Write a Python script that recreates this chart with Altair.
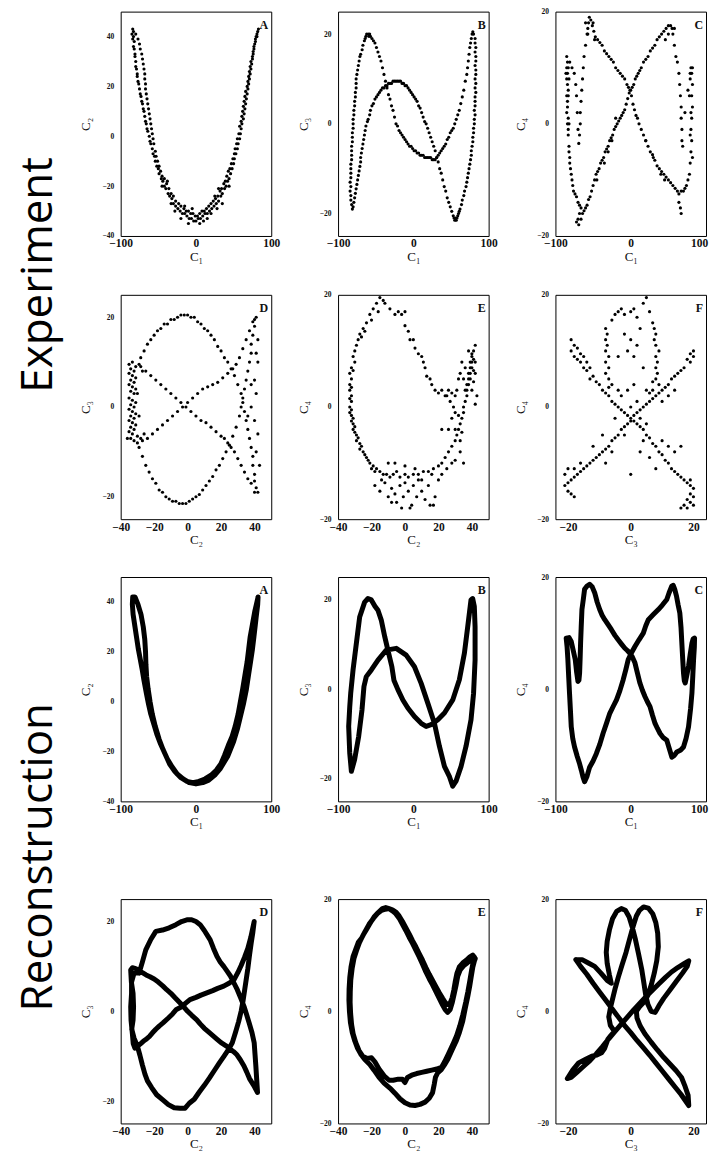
import altair as alt
import pandas as pd

# ---------------- data ----------------
# Experiment panels (scatter points)
EXP_A = [(-84,43),(-83,42),(-85,41),(-83,40),(-84,39),(-82,38),(-83,36),(-82,35),(-81,33),(-81,32),(-80,30),(-80,28),(-79,27),(-78,25),(-78,24),(-77,22),(-76,21),(-75,19),(-74,17),(-73,16),(-72,14),(-71,13),(-70,11),(-69,10),(-68,8),(-67,6),(-66,5),(-65,3),(-64,2),(-62,0),(-61,-2),(-60,-3),(-58,-5),(-57,-7),(-55,-8),(-54,-10),(-52,-12),(-50,-13),(-49,-15),(-46,-17),(-44,-18),(-42,-20),(-40,-21),(-37,-23),(-35,-24),(-32,-25),(-30,-27),(-27,-28),(-24,-29),(-21,-30),(-18,-31),(-15,-31),(-12,-32),(-9,-33),(-6,-33),(-3,-34),(0,-34),(3,-33),(6,-33),(9,-32),(12,-31),(15,-31),(18,-30),(21,-29),(24,-28),(27,-27),(30,-26),(33,-24),(35,-23),(38,-21),(40,-20),(42,-18),(44,-17),(46,-15),(48,-13),(50,-11),(51,-9),(53,-7),(55,-5),(56,-3),(58,-1),(59,1),(60,3),(61,5),(63,7),(64,9),(65,11),(66,13),(67,15),(68,17),(69,19),(70,21),(71,23),(72,25),(73,27),(74,29),(75,31),(76,33),(77,35),(78,37),(79,38),(80,40),(81,41),(82,42),(83,43),
         (-80,41),(-77,39),(-75,37),(-74,35),(-72,33),(-71,31),(-70,29),(-69,27),(-68,25),(-68,23),(-67,21),(-67,19),(-66,17),(-65,15),(-64,13),(-63,11),(-62,9),(-61,7),(-60,5),(-59,3),(-58,1),(-57,-1),(-56,-3),(-54,-6),(-53,-8),(-51,-10),(-49,-12),(-47,-14),(-45,-16),(-42,-17),(-39,-19),(-36,-21),(-33,-23),(-30,-24),(-27,-26),(-23,-27),(-20,-28),(-16,-29),(-13,-30),(-10,-30),(-7,-31),(-4,-31),(-1,-32),(2,-32),(5,-31),(8,-30),(11,-30),(14,-29),(17,-28),(20,-27),(23,-26),(26,-25),(29,-24),(32,-22),(34,-21),(37,-19),(39,-18),(41,-16),(43,-14),(45,-13),(47,-11),(49,-9),(51,-7),(52,-5),(54,-3),(55,-1),(57,1),(58,4),(60,6),(61,8),(62,10),(63,12),(64,14),(65,16),(66,18),(68,20),(69,22),(70,24),(71,26),(72,28),(73,30),(75,32),(76,34),(77,36),(79,39),(81,40),
         (-20,-33),(-10,-35),(5,-35),(15,-33),(-28,-30),(28,-29),(-5,-29),(10,-34),(-15,-28),(20,-31),(25,-24),(30,-21),(35,-27),(-33,-27),(-38,-18),(44,-20),(-45,-20)]

EXP_B = [(-81,-19),(-82,-18),(-83,-17),(-83,-16),(-84,-15),(-83,-14),(-84,-13),(-83,-12),(-83,-11),(-83,-10),(-83,-9),(-82,-8),(-82,-7),(-82,-6),(-82,-5),(-81,-4),(-81,-3),(-81,-2),(-80,-1),(-80,0),(-80,1),(-79,2),(-79,3),(-78,4),(-78,5),(-77,6),(-77,7),(-76,8),(-76,9),(-76,10),(-75,11),(-74,12),(-73,13),(-72,14),(-71,15),(-70,15.5),(-68,16.5),(-67,17.5),(-65,18.5),(-64,19),(-63,19.5),(-62,20),(-60,20),(-59,19.5),(-58,20),
         (-57,19.5),(-55,19),(-53,18.5),(-51,18),(-49,17),(-47,16),(-45,15),(-43,14),(-41,12.5),(-39,11),(-37,9.5),(-35,8),(-33,6.5),(-31,5.5),(-29,4),(-27,3),(-25,1.5),(-23,0),(-21,-0.5),(-19,-1.5),(-17,-2),(-15,-2.5),(-13,-3),(-11,-3.5),(-9,-4),(-7,-4.5),(-5,-5),(-3,-5),(-1,-5.5),(1,-6),(3,-6),(5,-6.5),(7,-6.5),(9,-7),(11,-7),(13,-7),(15,-7.5),(17,-7.5),(19,-7.5),(21,-7.5),(23,-7.5),(25,-8),(27,-8),(29,-8),
         (31,-7.5),(33,-7),(35,-6.5),(37,-6),(39,-5.5),(41,-5),(43,-4.5),(45,-3.5),(47,-3),(49,-2),(51,-1.5),(53,-1),(55,0),(57,1),(59,2),(61,3),(63,4.5),(65,6),(67,7.5),(69,9.5),(71,11),(72,12.5),(73,14),(74,15.5),(75,17),(76,18),(77,19),(78,20),(79,20.5),(80,20),
         (82,19),(82,18),(83,17),(82,16),(83,15),(83,14),(82,13),(83,12),(83,11),(82,10),(83,9),(82,8),(83,7),(82,6),(82,5),(82,4),(81,3),(82,2),(81,1),(81,0),(80,-1),(80,-2),(79,-3),(79,-4),(78,-5),(77,-6),(77,-7),(76,-8),(75,-9),(74,-10),(73,-11),(72,-12),(71,-13),(70,-14),(68,-15),(67,-16),(65,-17),(64,-18),(62,-19),(61,-19.5),(60,-20),(59,-20.5),(58,-21),(57,-21.5),(56,-21),(55,-21.5),(54,-21),
         (53,-20.5),(51,-19.5),(49,-18.5),(47,-17.5),(45,-16.5),(43,-15),(41,-14),(39,-12.5),(37,-11),(35,-10),(33,-8.5),(31,-7.5),(29,-6),(27,-5),(25,-4),(23,-3),(21,-2),(19,-1),(17,0),(15,0.5),(13,1.5),(11,2.5),(9,3.5),(7,4),(5,5),(3,5.5),(1,6),(-1,6.5),(-3,7),(-5,7.5),(-7,8),(-9,8.5),(-11,8.5),(-13,9),(-15,9),(-17,9.5),(-19,9.5),(-21,9.5),(-23,9.5),(-25,9.5),(-27,9.5),(-29,9),(-31,9),(-33,9),(-35,8.5),(-37,8.5),(-39,8),(-41,8),(-43,7.5),(-45,7),(-47,6.5),(-49,6),(-51,5.5),(-53,4.5),(-55,4),(-57,3),(-58,2),(-60,1),(-61,0.5),(-63,-0.5),(-64,-1.5),(-65,-2.5),(-66,-3.5),(-67,-4.5),(-68,-5.5),(-69,-6.5),(-70,-7.5),(-70,-8.5),(-71,-9.5),(-72,-10.5),(-73,-11.5),(-74,-12.5),(-75,-13.5),(-76,-14.5),(-77,-15.5),(-78,-16.5),(-79,-17.5),(-80,-18.5)]

EXP_C = [(-84,11),(-85,10),(-84,9),(-85,8),(-84,7),(-83,6),(-85,5),(-84,4),(-84,3),(-83,1),(-84,0),(-83,-1),(-83,-2),(-82,-4),(-82,-5),(-81,-6),(-81,-7),(-80,-8),(-79,-9),(-78,-10),(-77,-11),(-76,-12),(-74,-12.5),(-72,-13),(-70,-14),(-68,-14.5),(-66,-15),(-68,-16),(-70,-17),(-72,-17.5),(-69,-18),(-66,-17),(-64,-16),(-62,-15.5),(-60,-15),(-58,-14.5),(-56,-13.5),(-54,-13),(-52,-12),(-50,-11),(-48,-10),(-46,-9),(-44,-8.5),(-42,-8),(-40,-7),(-38,-6.5),(-36,-6),(-34,-5),(-32,-4.5),(-30,-4),(-28,-3),(-26,-2.5),(-24,-2),(-22,-1),(-20,-0.5),(-18,0),(-16,0.5),(-14,1),(-12,1.5),(-10,2),(-8,2.5),(-6,3.5),(-4,4.5),(-2,5.5),(0,6),(2,6.5),(4,7),(6,8),(8,8.5),(10,9),(12,9.5),(14,10),(17,11),(20,11.5),(23,12),(26,13),(29,13.5),(32,14),(35,15),(38,15.5),(41,16),(44,16.5),(47,17),(50,17.5),(53,17.5),(55,17),
         (58,14),(60,12),(62,11),(64,9),(65,7),(66,5),(67,3),(67,1),(68,-1),(68,-3),(69,-4),(72,2),(76,6),(79,9),(80,10),(81,9),(82,7),(81,5),(82,3),(81,1),(80,-1),(81,-3),(80,-5),(79,-7),(78,-9),(76,-10),(74,-11),(72,-11.5),(70,-12),(67,-12),(64,-12.5),
         (62,-12),(59,-11.5),(56,-11),(53,-10.5),(50,-10),(47,-9.5),(44,-9),(41,-8.5),(38,-8),(35,-7.5),(32,-6.5),(29,-5.5),(26,-5),(23,-4),(20,-3),(17,-2),(14,-1),(11,0),(9,1),(7,1.5),(5,2.5),(3,3.5),(1,5),(-1,6),(-3,6.5),(-5,7),(-8,8),(-11,8.5),(-14,9),(-17,9.5),(-20,10),(-23,11),(-26,11.5),(-29,12),(-32,12.5),(-35,13),(-38,14),(-41,14.5),(-44,15),(-47,15.5),(-49,16.5),(-51,17.5),(-53,18.5),(-55,19),(-56,18),(-57,17),
         (-58,16),(-60,14),(-62,12),(-63,10),(-64,8),(-65,6),(-66,4),(-67,2),(-67,0),(-68,-2),(-69,-3.5),(-70,-1),(-71,2),(-72,5),(-73,7),(-75,9),(-78,10),(-81,11),
         (-85,12),(-83,10),(-86,9),(-82,8),(-83,5),(-85,2),(-82,0),(66,-15),(64,-14),(67,-16),(-60,18),(-57,16),(-50,18),(-48,15),(50,16),(46,15),(56,16),(58,17),(82,10),(79,8),(78,5),(80,2),(79,-2),(82,-6),(30,-6),(40,-9),(45,-10),(20,-3),(-20,1),(-30,-5),(-35,-7),(-45,-10),(-25,-3)]

EXP_D = [(-33,10),(-35,9.5),(-31,9),(-34,8.5),(-32,8),(-35,7.5),(-33,7),(-31,6.5),(-34,6),(-32,5.5),(-35,5),(-33,4.5),(-31,4),(-34,3.5),(-32,3),(-35,2),(-33,1.5),(-31,1),(-34,0.5),(-32,0),(-35,-0.5),(-33,-1),(-31,-1.5),(-34,-2),(-32,-2.5),(-35,-3),(-33,-3.5),(-31,-4),(-34,-4.5),(-32,-5),(-35,-5.5),(-33,-6),(-30,-6.5),(-34,-7),(-32,-7.5),(-36,-7),(-30,-8),(-28,-7),(-29,9.5),(-27,8),(-26,-6),(-30,3),(-29,-2),
         (-28,11),(-26,12.5),(-24,14),(-22,15),(-20,16),(-18,17),(-16,17.5),(-14,18.5),(-12,18.5),(-10,19.5),(-8,19.5),(-6,20),(-4,20.5),(-2,20.5),(0,20.5),(2,20),(4,20),(6,19),(8,18.5),(10,17.5),(12,17),(14,16),(16,15),(18,13.5),(20,12.5),(22,11),(24,10),(26,8.5),
         (28,7),(30,5),(32,3),(33,1),(34,-1),(35,-3),(36,-5),(37,-7),(38,-9),(39,-11),(39,-13),(40,-15),(40,-16.5),(41,-18),(42,-19),(40,-19),
         (38,-17),(36,-16),(34,-14.5),(32,-13),(30,-11.5),(28,-10),(26,-9),(24,-8),(22,-7),(20,-6.5),(17,-5.5),(14,-4.5),(11,-3.5),(8,-3),(5,-2),(2,-1),(-1,0),(-4,1),(-7,2),(-10,3),(-13,4),(-16,5),(-19,6),(-22,7),(-25,8),(-28,9),
         (-29,-9),(-27,-11),(-25,-13),(-23,-14.5),(-21,-16),(-19,-17),(-17,-18.5),(-15,-19),(-13,-20),(-11,-20.5),(-9,-21),(-7,-21),(-5,-21.5),(-3,-21.5),(-1,-21.5),(1,-21),(3,-20.5),(5,-20),(7,-19.5),(9,-18.5),(11,-17.5),(13,-16.5),(15,-15.5),(17,-14),(19,-13),(21,-11.5),(23,-10),(25,-8.5),(27,-6.5),(29,-4.5),(31,-2),(32,0),(33,2),(34,4),(35,6),(36,8),(37,10),(38,12),(38,14),(39,16),(40,18),(40,19.5),(41,20),
         (39,19),(37,17),(35,15),(33,13),(31,11),(29,9.5),(27,8.5),(24,7.5),(21,6.5),(18,5.5),(15,5),(12,4.5),(9,4),(6,3),(3,2),(0,1),(-3,0),(-6,-1),(-9,-2),(-12,-3),(-15,-4),(-18,-5),(-21,-6),(-24,-7),(-27,-7.5),
         (42,15),(41,12),(42,10),(40,6),(41,3),(38,0),(40,-3),(42,-6),(41,-10),(43,-13),(36,-2),(38,5)]

EXP_E = [(-15,19.5),(-13,19),(-17,18.5),(-19,17.5),(-16,17),(-21,16.5),(-20,15.5),(-23,15),(-25,14),(-24,13.5),(-27,13),(-28,12),(-26,12.5),(-29,11),(-30,10),(-31,9),(-30,8),(-32,7),(-31,6.5),(-33,6),(-32,5),(-33,4),(-32,3.5),(-33,3),(-32,2),(-33,1.5),(-32,1),(-33,0),(-32,-0.5),(-33,-1),(-32,-1.5),(-31,-2),(-32,-2.5),(-31,-3),(-30,-3.5),(-31,-4),(-30,-4.5),(-29,-5),(-28,-5.5),(-29,-6),(-27,-6.5),(-26,-7),(-27,-7.5),(-25,-8),(-24,-8.5),(-23,-9),(-22,-9.5),(-21,-10),(-19,-10.5),(-20,-11),(-17,-11),(-18,-11.5),(-15,-11.5),(-13,-12),(-11,-12),(-9,-12.5),(-7,-12),(-5,-11.5),(-3,-12.5),(0,-12),(2,-12.5),(5,-12),(8,-12),(11,-11.5),(14,-11.5),(17,-11),(20,-10.5),(22,-10),(24,-9),(26,-8),(28,-7),(30,-6),(31,-5),(32,-4),(33,-3),(34,-2),(35,-1),(35,0),(36,1),(37,2),(37,3),(38,4),(38,5),(39,6),(39,7),(40,8),(40,9),(41,10),(42,11),
         (38,10),(40,9.5),(41,8.5),(39,8),(42,8),(40,7),(41,6.5),(38,6),(42,6),(39,5),(41,4.5),(37,4),(40,3),(35,5),(33,6),(36,7),(34,8),(32,5),(31,3),(30,2),(28,2.5),(27,1),(29,0),(30,-1),(32,-1.5),(26,3),(25,2),(43,2),(42,0.5),(36,3),
         (-12,18.5),(-9,17.5),(-6,16.5),(-4,17),(-2,16.5),(0,17),(0,14.5),(2,13.5),(3,12),(5,12),(6,10.5),(8,9.5),(10,9),(11,8),(12,7),(13,5.5),(15,5),(16,4),(18,3),(20,2.5),(22,3),(24,2),
         (-18,-14),(-15,-15),(-12,-13.5),(-10,-16),(-8,-14.5),(-6,-15.5),(-5,-17),(-3,-14),(-1,-16),(0,-13.5),(2,-15),(4,-17.5),(5,-14),(7,-16),(8,-13),(10,-15),(12,-16.5),(14,-14),(15,-17.5),(17,-17.5),(18,-16),(3,-18),(-2,-18),(-8,-17),(10,-13),(20,-13),(22,-12),(25,-11),(28,-10),(30,-9.5),(33,-8),(35,-10),(16,-12),(6,-11),(0,-10.5),(-6,-10),(-10,-10),(-14,-13),
         (22,-4),(26,-4),(30,-4),(34,-4.5),(28,-2),(33,-6)]

EXP_F = [(-8,14),(-7.5,13),(-8,12),(-7.5,11),(-8,10),(-7,9),(-8,8),(-7,7),(-8,6),(-7,5),(-6,4),(-7,3.5),(-5,16.5),(-6,15.5),(-4,17),(-3,17.5),(-2,16.5),(0,17),(1,17.5),(2,16),(4,18.5),(5,19.5),(6,17),(7,15),(7.5,14),(8,13),(7.5,12),(8,11),(9,10),(8,9),(8.5,8),(8,7),(8.5,6),(8,5),(7,4.5),(9,4),(7,3),(6,2.5),
         (-2,13),(0,12),(2,11),(-4,9),(1,9),(4,7),(3,14),(-1,10),
         (-19,12),(-18,11),(-19,10),(-17,10.5),(-18,9),(-16,9.5),(-17,8.5),(-15,9),(-16,8),(-14,8),(-15,7),(-13,7),(-14,6.5),(-12,5.5),(-13,5),(-11,4.5),(-10,4),(-9,3),(-8,2.5),(-7,2),(-6,1),(-5,0.5),(-4,0),(-3,-0.5),(-2,-1),(-1,-1.5),(0,-2),(1,-2.5),(2,-3),(3,-3.5),(4,-4),(5,-5),(6,-5.5),(7,-6.5),(8,-7),(9,-8),(10,-8.5),(11,-9.5),(12,-10),(13,-11),(14,-11.5),(15,-12),(16,-12.5),(17,-13),(18,-13.5),(19,-14),(20,-14.5),(19,-15.5),(20,-16),(18,-16.5),(19,-17),(17,-17.5),(20,-17.5),(16,-18),(18,-18),(19,-13),
         (20,10),(19,9.5),(20,9),(18,8.5),(19,8),(17,7),(16,6.5),(15,6),(14,5.5),(13,5),(12,4),(11,3.5),(10,3),(9,2.5),(8,2),(7,1.5),(6,1),(5,0.5),(4,0),(3,-0.5),(2,-1),(1,-1.5),(0,-2.5),(-1,-3),(-2,-3.5),(-3,-4),(-4,-5),(-5,-5.5),(-6,-6),(-7,-7),(-8,-7.5),(-9,-8),(-10,-8.5),(-11,-9),(-12,-9.5),(-13,-10),(-14,-10.5),(-15,-11),(-16,-11.5),(-17,-12),(-18,-12.5),(-19,-13),(-20,-13.5),(-21,-14),(-20,-15),(-19,-15.5),(-18,-16),(-21,-12),(-20,-11),(-18,-11),(-16,-10),
         (-3,2),(2,1),(-1,3),(3,-2),(0,0),(-2,-5),(4,-6),(-5,-2),(5,-3),(1,4),(-6,-8),(6,-9),(-9,-5),(10,-6),(12,-7),(-12,-7),(-8,-10),(8,-11),(14,-8),(16,-7),(0,-12),(3,-8),(-4,3),(5,3),(10,1),(12,2),(14,3)]

# Reconstruction panels (ordered trajectory vertices)
REC_A = [(-84,42),(-84.5,39),(-83.5,35),(-81,30),(-79,26),(-76.5,21),(-74,17),(-71.5,13),(-69,8.5),(-66,3.5),(-63,-1),(-60,-5),(-56,-9),(-52,-13),(-47,-17),(-41,-21),(-35,-25),(-28,-28),(-20,-30.5),(-12,-32),(-4,-32.5),(4,-32),(12,-31),(20,-29.5),(27,-27.5),(33,-25),(38,-21.5),(43,-17.5),(48,-14),(52,-10),(56,-5),(59,0),(62,5),(65,10.5),(68,16),(70,21),(72,26),(75,31),(78,36),(81,40),(82.5,42),(82,39),(80,34),(78.5,30),(77,26),(75,21),(72.5,16),(70,11),(67,5),(63,-1),(59,-6),(55,-11),(50,-16),(46,-19),(42,-22),(38,-24),(32,-27),(25,-29.5),(17,-31.5),(9,-32.5),(0,-33),(-9,-32.5),(-17,-31),(-25,-29),(-32,-26),(-38,-23),(-44,-19),(-49,-15),(-54,-10),(-58,-5),(-61,0),(-63.5,5),(-65.5,10),(-66.5,15),(-67,20),(-68,25),(-70,30),(-73,35),(-77,39),(-81,42),(-84,42)]

REC_B = [(-82.3,-18.3),(-84.5,-14.2),(-85.9,-8.3),(-84.5,-4),(-83.2,-0.9),(-80.1,4.3),(-75.7,10.2),(-71.3,16.1),(-64.7,19.4),(-60.3,20.2),(-55.8,19.9),(-51,18.5),(-47,17.6),(-42.6,15.4),(-38,11.7),(-33.8,8.7),(-28.5,5),(-25.8,2),(-20.5,-0.1),(-13.9,-2.4),(-7.3,-4.2),(1.5,-6.1),(10.4,-7.6),(17,-8.3),(23.6,-7.9),(32.5,-6.8),(41.3,-5.3),(52.3,-2.4),(61.1,2.1),(67.8,8),(72.2,13.9),(76.6,19.9),(78.8,20.2),(81,18.4),(82,13.9),(82,6.5),(80,-0.9),(76.6,-6.8),(70,-12.7),(63.4,-17.2),(56.7,-20.5),(52.3,-21.6),(48,-19.5),(41.3,-17.2),(34.6,-12.7),(28,-7.6),(19.2,-3.1),(10.4,1.3),(1.5,5),(-9.5,7.6),(-22.7,9.1),(-36,8.7),(-47,6.5),(-55.8,4.3),(-62.5,2.8),(-65.6,0.6),(-68.2,-4.6),(-72.6,-10.5),(-78,-15.7),(-82.3,-18.3)]

REC_C = [(-85.7,9.1),(-84.5,7.5),(-83.5,5.3),(-82.5,2.5),(-81.3,-0.7),(-80,-4),(-79,-6.7),(-77,-8.8),(-74.6,-10.3),(-71,-12),(-67.9,-13.3),(-65.5,-14.5),(-63.5,-15.6),(-61.3,-16.5),(-58,-15.5),(-54.6,-13.9),(-50,-12.8),(-45.7,-11.5),(-41,-9.8),(-36.8,-7.9),(-32,-6),(-27.8,-4.3),(-23,-3),(-18.9,-1.9),(-14.5,-0.3),(-10,1.7),(-6.5,3.5),(-3.3,5.3),(1,6.5),(5.6,7.6),(11,8.8),(16.7,10),(20,11.3),(23.4,12.4),(30,13.3),(36.7,14.2),(42,15),(47.9,16),(51,17.2),(54.6,18.4),(56.5,18.5),(58.5,17.8),(60.8,16.6),(63,15),(65.2,13.6),(66.8,11),(67.9,8.2),(69,5.5),(70.1,2.9),(71.2,1.5),(72.4,1.1),(74.5,2.5),(76.8,4.1),(79,6.2),(81.3,8.2),(83,9),(84.8,9.1),(84.5,7.5),(83.5,5.3),(82.5,2.5),(81.3,-0.7),(79.5,-3.5),(76.8,-6.7),(73.5,-8.8),(70.1,-10.3),(66,-10.9),(61.2,-11.2),(58,-11.8),(54.6,-12.1),(51,-10.5),(47.9,-9.1),(43,-8.6),(39,-7.9),(35.5,-7),(32.3,-6.1),(29,-4.7),(25.6,-3.1),(22,-2.2),(18.9,-1.3),(15.5,-0.2),(12.2,1.1),(9,2.8),(5.6,4.7),(2,5.8),(-1.1,6.4),(-4.5,6.9),(-7.8,7.3),(-12,8),(-16.7,8.8),(-21,9.6),(-25.6,10.6),(-30,11.5),(-34.5,12.4),(-38,13.2),(-41.2,14.2),(-44.5,15.5),(-47.9,17.2),(-51,18.2),(-54.6,18.7),(-58,18.4),(-61.3,17.8),(-63,16),(-64.8,14.2),(-65.8,11),(-66.6,8.2),(-67.2,5.5),(-67.9,2.9),(-68.8,1.6),(-70.1,1.4),(-71.8,3),(-73.7,5.3),(-76.5,7),(-79,8.5),(-82,9.2),(-85.7,9.1)]

REC_D = [(-29,8.5),(-27,11),(-25,13.7),(-22,16),(-19,17.8),(-15,18.1),(-11,18.6),(-7,19.3),(-3.6,20),(0,20.4),(2.4,20.4),(5,20),(7.5,19.3),(10,18),(12,16.8),(13.5,15.9),(15.5,14),(17.6,12.2),(19.5,11),(21.6,10),(23.7,8.9),(25.7,7.8),(27.7,6.3),(29.7,4.8),(31.7,3),(33.7,1.1),(35.3,-0.8),(36.8,-2.6),(38.5,-4.8),(39.8,-7),(40.3,-9.6),(40.8,-12.2),(41.3,-15.2),(41.8,-18.1),(39.5,-16.5),(37,-15),(35.3,-13.5),(33.7,-12.2),(31.5,-10.8),(29.5,-9.7),(27.5,-9),(25.7,-8.5),(23,-7.7),(20,-7),(17.5,-6.2),(15.6,-5.6),(12.5,-4.6),(10,-3.8),(7.5,-2.8),(5.5,-1.9),(2.5,-0.9),(0,0),(-2.3,1),(-4.6,1.9),(-7.5,3),(-10,4),(-12.5,4.8),(-14.7,5.6),(-17.5,6.5),(-20,7.2),(-22.5,7.7),(-24.8,8.1),(-27,8.6),(-29,9),(-31,9.5),(-33,9.7),(-34,9.2),(-33.6,6.5),(-32.6,4),(-32.3,1),(-32.6,-2),(-33.4,-4),(-32,-6),(-30,-7.8),(-28.5,-9.8),(-27,-12),(-25.5,-14),(-24,-15.5),(-21.5,-17),(-18.5,-18.6),(-15,-19.7),(-11.5,-20.8),(-8,-21.5),(-4.5,-21.6),(-1.5,-21.6),(1,-20.5),(4,-19.6),(7,-18),(10,-16.5),(13,-14.9),(16,-13.2),(19,-11.5),(21.8,-10),(24.5,-8.5),(26.7,-7),(28.7,-4.6),(30.5,-2.3),(32,0),(33,2),(34,4.5),(35,7),(36,9.5),(37,12.5),(38,15.2),(39,17.6),(39.8,20),(39,18.6),(37.8,16.5),(36,14),(34,12),(32,10.2),(30,8.6),(27.7,7),(25,6.3),(21.6,5.6),(18,5.1),(15,4.6),(11.5,4.1),(8,3.6),(5,3.1),(1.4,2.6),(-1.5,1.7),(-3.5,1),(-6.7,0.4),(-9,-0.6),(-11.5,-1.5),(-14.7,-2.6),(-17,-3.3),(-19,-4),(-21,-4.8),(-22.8,-5.6),(-25,-6.3),(-26.5,-6.7),(-28,-7.2),(-30,-7.8),(-31.5,-8.2),(-32.5,-7.2),(-33,-5),(-33.8,-2),(-34,1),(-33.5,4),(-33.5,6.5),(-32,8.5),(-29,8.5)]

REC_E = [(-11.7,18.2),(-14,18),(-16.5,17.4),(-18.8,16.6),(-21.5,15.5),(-23.9,14.2),(-26,13),(-27.9,12.3),(-29.5,11),(-31,9.8),(-32.2,8),(-33,6),(-33.4,4),(-33.5,2),(-33.2,0),(-32.6,-2),(-31.5,-3.8),(-30,-5.3),(-28.5,-6.5),(-26.5,-7.6),(-24,-8.6),(-21,-9.5),(-18.5,-10.5),(-15.5,-11.8),(-12.5,-12.8),(-9,-13.7),(-6,-14.6),(-3,-15.6),(0,-16.3),(3,-16.7),(6,-16.8),(9,-16.6),(12,-16.2),(14.5,-15.5),(16.5,-14.5),(17.5,-13),(18.2,-11.8),(19.5,-11),(21.7,-10.4),(23.5,-9.6),(25.7,-8.5),(28,-7),(30.5,-5.4),(32.5,-3.8),(34.5,-1.8),(36,0.5),(37.5,2.6),(38.7,4.5),(39.6,6.2),(40.5,7.8),(41.5,9),(42,9.4),(41,9.6),(39.3,9.2),(37.2,8.6),(35,8.1),(33,7.4),(31.5,6.2),(30.5,4.6),(29.5,3.2),(28.3,1.6),(27,0.3),(25.5,-0.2),(24,0.3),(22.5,1.1),(20.5,2.3),(18.5,3.5),(16.5,4.7),(14.5,5.8),(12.5,7),(10.5,8.4),(8.5,9.7),(6.5,10.9),(4.5,12.1),(2.5,13.2),(0.5,14.4),(-1.5,15.5),(-3.5,16.6),(-5.5,17.4),(-7.5,17.9),(-9.5,18.3),(-11.5,18.5),
         (-13.5,18.3),(-16,17.6),(-18.5,16.8),(-21,15.6),(-23,14.6),(-25,13.6),(-27.3,12.2),(-29,10.8),(-30.5,9.4),(-31.6,7.6),(-32.4,5.6),(-32.7,3.6),(-32.8,1.6),(-32.5,-0.4),(-31.9,-2.4),(-31,-4),(-29.4,-5.6),(-27.5,-7),(-25.3,-8),(-22.5,-8.4),(-20,-8.3),(-18,-9),(-15.5,-10.3),(-12.5,-11.5),(-9.5,-12.3),(-7,-12.3),(-4,-12.1),(-1.5,-12.1),(0,-12.7),(1.5,-11.8),(4,-11.4),(7,-11.1),(10,-10.9),(13,-10.7),(16,-10.5),(19,-10.3),(21.8,-10),(23.7,-9),(26,-7.6),(28.5,-6),(30.8,-4.4),(32.8,-2.6),(34.6,-0.6),(36.3,1.6),(37.6,3.5),(38.8,5.5),(39.8,7.3),(40.8,8.8),(41.6,9.6),(40.5,10),(38.8,9.7),(36.6,9.1),(34.5,8.6),(32.5,7.9),(31,6.7),(30,5.2),(29.2,3.8),(28.2,2.4),(26.8,1.3),(25.5,1.2),(24,1.6),(22.5,2.3),(20.5,3.3),(18.5,4.4),(16.5,5.5),(14.5,6.6),(12.5,7.8),(10.5,9.1),(8.5,10.3),(6.5,11.5),(4.5,12.6),(2.5,13.8),(0.5,14.9),(-1.5,16),(-3.5,17),(-5.5,17.7),(-7.5,18.1),(-9.5,18.3),(-11.7,18.2)]

REC_F = [(-17.5,9.2),(-16,8),(-14,6.6),(-12,5),(-10,3.5),(-8,2),(-6,0.5),(-4,-1),(-2,-2.5),(0,-3.8),(2,-5.2),(4,-6.5),(6,-7.8),(8,-9.2),(10,-10.6),(12,-12),(14,-13.4),(16,-14.8),(17.5,-16),(18.5,-16.8),(18.3,-15),(17.2,-13.2),(16.2,-11.8),(14.5,-10.6),(12.5,-9.4),(10.5,-8.2),(8.5,-6.9),(6.5,-5.5),(4.5,-4),(3,-2.6),(2,-1.2),(1.8,0),(2.8,0.8),(4.3,1.7),(5.6,3),(6.6,4.8),(7.5,6.8),(8.3,9),(8.8,11.5),(8.6,13.9),(8,15.8),(7,17.4),(5.6,18.4),(4.1,18.6),(2.8,18),(1.8,17),(0.8,15.2),(-0.3,13),(-1.5,10.5),(-2.8,8.2),(-4,6),(-5,4),(-5.7,2.4),(-6.4,0.8),(-7,-1),(-6.5,-2.5),(-5.2,-3.6),(-6.3,-4.3),(-7.3,-5),(-8.3,-6.6),(-9.3,-7.4),(-10.8,-7.8),(-12.4,-8),(-14.5,-8.6),(-16.6,-9.2),(-18.5,-10.5),(-20.2,-12),(-19,-11.8),(-17,-10.8),(-15,-9.8),(-13,-8.8),(-11,-7.6),(-9,-6.3),(-7,-4.9),(-5,-3.6),(-3,-2.3),(-1,-1),(1,0.3),(3,1.5),(5,2.7),(7,3.8),(9,4.9),(11,6),(13,7),(15,7.8),(17,8.5),(18.5,9),(18,8),(16.5,6.8),(14.5,5.3),(12.5,3.8),(10.5,2.3),(9,1),(7.8,-0.2),(6.5,0),(5.5,1.2),(4.8,2.8),(4.2,5),(3.5,7.5),(2.5,10.2),(1.5,12.8),(0.5,15),(-0.5,16.8),(-1.7,18),(-3,18.3),(-4.5,17.8),(-5.8,16.5),(-6.8,14.5),(-7.5,12.5),(-7.8,10.5),(-7.5,8.5),(-6.8,6.5),(-6.2,5),(-7.5,5.5),(-9.5,6.8),(-11.5,8),(-13.5,8.6),(-15.5,9.2),(-17.5,9.2)]

# axis ranges / tick values
DOM_C1 = [-100, 100]
DOM_C2X = [-40, 50]
DOM_C3X = [-24, 24]
DOM_C2Y = [-40, 50]
DOM_C3Y = [-25, 25]
DOM_C4Y = [-20, 20]
TICKS_C1 = [-100, 0, 100]
TICKS_C2X = [-40, -20, 0, 20, 40]
TICKS_C3X = [-20, 0, 20]
TICKS_C2Y = [-40, -20, 0, 20, 40]
TICKS_C3Y = [-20, 0, 20]
TICKS_C4Y = [-20, 0, 20]

# ---------------- chart ----------------
W, H = 151, 225
SERIF = "Liberation Serif"


def xaxis(vals, title, edge_shift=0):
    offset = 0
    if edge_shift:
        offset = {"condition": {"test": f"datum.value == {vals[-1]}", "value": edge_shift}, "value": 0}
    return alt.Axis(values=vals, title=title, format="d", grid=False, ticks=False, domain=False,
                    labelFlush=False, labelOverlap=False, labelFont=SERIF, labelFontSize=11.5,
                    labelFontWeight="bold", labelColor="#111", labelPadding=2, labelOffset=offset,
                    titleFont=SERIF, titleFontSize=13, titleFontWeight="normal", titleColor="#111",
                    titlePadding=1)


def yaxis(vals, title):
    return alt.Axis(values=vals, title=title, format="d", grid=False, ticks=False, domain=False,
                    labelFlush=False, labelOverlap=False, labelFont=SERIF, labelFontSize=7.5,
                    labelFontWeight="bold", labelColor="#111", labelPadding=7,
                    titleFont=SERIF, titleFontSize=13, titleFontWeight="normal", titleColor="#111",
                    titlePadding=9)


def letter_layer(letter):
    return alt.Chart(pd.DataFrame({"t": [letter]})).mark_text(
        align="right", baseline="alphabetic", font=SERIF, fontSize=12, fontWeight="bold", color="#111"
    ).encode(text="t:N", x=alt.value(W - 3), y=alt.value(17))


def row_label(text, ypos):
    return alt.Chart(pd.DataFrame({"t": [text]})).mark_text(
        angle=270, align="center", baseline="alphabetic", font="Open Sans", fontSize=44, color="black"
    ).encode(text="t:N", x=alt.value(-69), y=alt.value(ypos))


def encode_xy(chart, xdom, ydom, xt, yt, xtitle, ytitle, edge_shift):
    return chart.encode(
        x=alt.X("x:Q", scale=alt.Scale(domain=xdom, nice=False, zero=False),
                axis=xaxis(xt, xtitle, edge_shift)),
        y=alt.Y("y:Q", scale=alt.Scale(domain=ydom, nice=False, zero=False), axis=yaxis(yt, ytitle)),
    )


def exp_panel(pts, xdom, ydom, xt, yt, xtitle, ytitle, letter, extra=None, edge_shift=0):
    df = pd.DataFrame(pts, columns=["x", "y"])
    base = encode_xy(alt.Chart(df).mark_circle(size=10, color="black", opacity=1),
                     xdom, ydom, xt, yt, xtitle, ytitle, edge_shift)
    layers = [base, letter_layer(letter)]
    if extra is not None:
        layers.append(extra)
    return alt.layer(*layers).properties(width=W, height=H)


def rec_panel(path, xdom, ydom, xt, yt, xtitle, ytitle, letter, extra=None, edge_shift=0):
    df = pd.DataFrame(path, columns=["x", "y"])
    df["i"] = range(len(df))
    base = encode_xy(alt.Chart(df).mark_line(color="black", strokeWidth=5, strokeJoin="round",
                                             strokeCap="round", interpolate="linear"),
                     xdom, ydom, xt, yt, xtitle, ytitle, edge_shift).encode(order="i:Q")
    layers = [base, letter_layer(letter)]
    if extra is not None:
        layers.append(extra)
    return alt.layer(*layers).properties(width=W, height=H)


def six(maker, data, extraA=None):
    A, B, C, D, E, F = data
    pA = maker(A, DOM_C1, DOM_C2Y, TICKS_C1, TICKS_C2Y, "C₁", "C₂", "A", extraA)
    pB = maker(B, DOM_C1, DOM_C3Y, TICKS_C1, TICKS_C3Y, "C₁", "C₃", "B")
    pC = maker(C, DOM_C1, DOM_C4Y, TICKS_C1, TICKS_C4Y, "C₁", "C₄", "C", edge_shift=-7)
    pD = maker(D, DOM_C2X, DOM_C3Y, TICKS_C2X, TICKS_C3Y, "C₂", "C₃", "D")
    pE = maker(E, DOM_C2X, DOM_C4Y, TICKS_C2X, TICKS_C4Y, "C₂", "C₄", "E")
    pF = maker(F, DOM_C3X, DOM_C4Y, TICKS_C3X, TICKS_C4Y, "C₃", "C₄", "F")
    return [pA, pB, pC], [pD, pE, pF]


def spacer(h):
    return alt.Chart(pd.DataFrame({"x": [0], "y": [0]})).mark_point(opacity=0).encode(
        x=alt.X("x:Q", axis=None), y=alt.Y("y:Q", axis=None)
    ).properties(width=W, height=h, view={"stroke": "transparent"})


e1, e2 = six(exp_panel, [EXP_A, EXP_B, EXP_C, EXP_D, EXP_E, EXP_F], row_label("Experiment", 264))
r1, r2 = six(rec_panel, [REC_A, REC_B, REC_C, REC_D, REC_E, REC_F], row_label("Reconstruction", 281))

cells = (e1 + [spacer(59) for _ in range(3)] + e2 + [spacer(58) for _ in range(3)]
         + r1 + [spacer(98) for _ in range(3)] + r2)

chart = alt.concat(*cells, columns=3, spacing={"row": 0, "column": 67}, bounds="flush",
                   align="each").properties(
    padding={"left": 8, "top": -3, "right": 0, "bottom": 0}, background="white"
).configure_view(stroke="black", strokeWidth=1)

chart.save("out.html", embed_options={"renderer": "svg", "actions": False})
